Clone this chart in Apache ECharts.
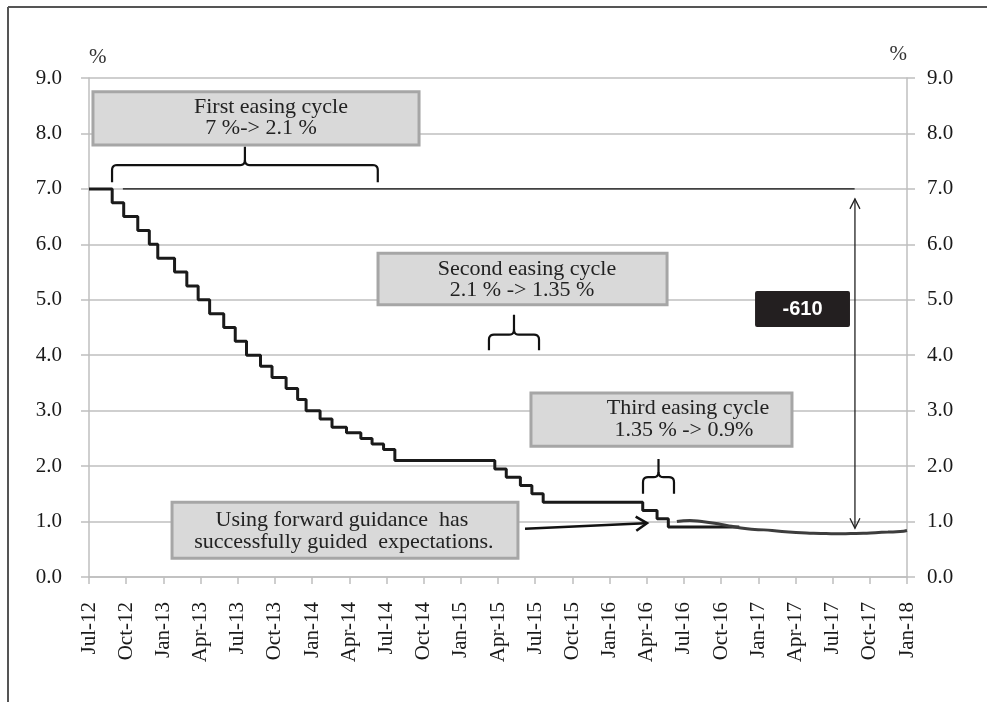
<!DOCTYPE html>
<html><head><meta charset="utf-8">
<script src="https://cdn.jsdelivr.net/npm/echarts@6/dist/echarts.min.js"></script>
<style>html,body{margin:0;padding:0;background:#fff}#c{width:987px;height:702px}</style>
</head><body><div id="c"></div>
<script>
// ---------- data ----------
const tickLabels = ['Jul-12','Oct-12','Jan-13','Apr-13','Jul-13','Oct-13','Jan-14','Apr-14','Jul-14','Oct-14','Jan-15','Apr-15','Jul-15','Oct-15','Jan-16','Apr-16','Jul-16','Oct-16','Jan-17','Apr-17','Jul-17','Oct-17','Jan-18'];
const yTicks = [0,1,2,3,4,5,6,7,8,9];

const rateDates = ['2012-07-01','2012-08-28','2012-09-25','2012-10-30','2012-11-27','2012-12-18',
  '2013-01-29','2013-02-26','2013-03-26','2013-04-23','2013-05-28','2013-06-25','2013-07-23','2013-08-27',
  '2013-09-24','2013-10-29','2013-11-26','2013-12-17','2014-01-21','2014-02-18','2014-03-25','2014-04-29',
  '2014-05-27','2014-06-24','2014-07-22','2015-03-24','2015-04-21','2015-05-26','2015-06-23','2015-07-21',
  '2016-03-22','2016-04-26','2016-05-24','2016-11-15'];
const rateValues = [7.00,6.75,6.50,6.25,6.00,5.75,5.50,5.25,5.00,4.75,4.50,4.25,4.00,3.80,3.60,3.40,3.20,3.00,
  2.85,2.70,2.60,2.50,2.40,2.30,2.10,1.95,1.80,1.65,1.50,1.35,1.20,1.05,0.90,0.90];

const expDates = ['2016-06-14','2016-07-16','2016-08-15','2016-09-15','2016-10-15','2016-11-15','2016-12-15',
  '2017-01-15','2017-02-15','2017-03-15','2017-04-15','2017-05-15','2017-06-15','2017-07-15','2017-08-15',
  '2017-09-15','2017-10-15','2017-11-15','2017-12-15','2018-01-01'];
const expValues = [1.00,1.02,1.00,0.97,0.93,0.89,0.86,0.85,0.83,0.81,0.80,0.79,0.785,0.78,0.785,0.79,0.80,0.81,0.82,0.84];

const refDates = ['2012-09-23','2017-08-25'];
const refValues = [7.0,7.0];

const cutLabel = '-610';

// ---------- helpers ----------
function mi(s){const [y,m,d]=s.split('-').map(Number);const dim=new Date(y,m,0).getDate();return (y-2012)*12+(m-7)+(d-1)/dim;}
function pairs(ds,vs){return ds.map((d,i)=>[mi(d),vs[i]]);}

const SERIF = '"Liberation Serif","Times New Roman",serif';
const GRID = '#bfbfbf';

const chart = echarts.init(document.getElementById('c'));
const option = {
  animation:false,
  backgroundColor:'#fff',
  grid:{left:89,right:80,top:78,bottom:125},
  xAxis:{type:'value',min:0,max:66,interval:3,
    axisLine:{show:true,lineStyle:{color:GRID,width:1.5}},
    axisTick:{show:true,length:7,lineStyle:{color:GRID,width:1.5}},
    splitLine:{show:false},
    axisLabel:{rotate:90,margin:25,fontFamily:SERIF,fontSize:21,color:'#1a1a1a',
      formatter:v=>tickLabels[Math.round(v/3)]||''}},
  yAxis:[
    {type:'value',min:0,max:9,interval:1,position:'left',
     name:'%',nameLocation:'end',nameGap:21,
     nameTextStyle:{fontFamily:SERIF,fontSize:21,color:'#333',align:'left',verticalAlign:'middle'},
     axisLine:{show:true,lineStyle:{color:GRID,width:1.5}},
     axisTick:{show:true,length:8,lineStyle:{color:GRID,width:1.5}},
     splitLine:{show:true,lineStyle:{color:GRID,width:1.5}},
     axisLabel:{margin:27,fontFamily:SERIF,fontSize:21,color:'#1a1a1a',formatter:v=>v.toFixed(1)}},
    {type:'value',min:0,max:9,interval:1,position:'right',
     name:'%',nameLocation:'end',nameGap:24,
     nameTextStyle:{fontFamily:SERIF,fontSize:21,color:'#333',align:'right',verticalAlign:'middle'},
     axisLine:{show:true,lineStyle:{color:GRID,width:1.5}},
     axisTick:{show:true,length:8,lineStyle:{color:GRID,width:1.5}},
     splitLine:{show:false},
     axisLabel:{margin:20,fontFamily:SERIF,fontSize:21,color:'#1a1a1a',formatter:v=>v.toFixed(1)}}
  ],
  series:[
    {name:'ref',type:'line',data:pairs(refDates,refValues),symbol:'none',
     lineStyle:{color:'#111',width:1.3},z:3},
    {name:'Base rate',type:'line',step:'end',data:pairs(rateDates,rateValues),symbol:'none',
     lineStyle:{color:'#1a1a1a',width:3},z:4},
    {name:'Expectations',type:'line',smooth:0.5,data:pairs(expDates,expValues),symbol:'none',
     lineStyle:{color:'#3d3d3d',width:3},z:5}
  ]
};
chart.setOption(option);

// ---------- annotations (anchored in data units) ----------
function P(m,v){return chart.convertToPixel({xAxisIndex:0,yAxisIndex:0},[m,v]);}
const boxes=[
  {x0:0.32,x1:26.63,y0:8.75,y1:7.79},
  {x0:23.32,x1:46.64,y0:5.84,y1:4.91},
  {x0:35.66,x1:56.72,y0:3.32,y1:2.36},
  {x0:6.70,x1:34.61,y0:1.35,y1:0.34}
];
const texts=[
  {t:'First easing cycle',m:14.68,v:8.47},
  {t:'7 %-> 2.1 %',m:13.88,v:8.09},
  {t:'Second easing cycle',m:35.34,v:5.56},
  {t:'2.1 % -> 1.35 %',m:34.94,v:5.17},
  {t:'Third easing cycle',m:48.33,v:3.04},
  {t:'1.35 % -> 0.9%',m:48.0,v:2.64},
  {t:'Using forward guidance  has',m:20.41,v:1.02},
  {t:'successfully guided  expectations.',m:20.57,v:0.62}
];
const braces=[
  {l:1.86,r:23.3,b:7.12,h:7.43,t:7.76},
  {l:32.27,r:36.31,b:4.09,h:4.37,t:4.73},
  {l:44.7,r:47.2,b:1.50,h:1.80,t:2.13}
];
const els=[];
boxes.forEach(b=>{
  const a=P(b.x0,b.y0),c=P(b.x1,b.y1);
  els.push({type:'rect',z:100,shape:{x:a[0],y:a[1],width:c[0]-a[0],height:c[1]-a[1]},
    style:{fill:'#d9d9d9',stroke:'#a6a6a6',lineWidth:3}});
});
texts.forEach(t=>{
  const p=P(t.m,t.v);
  els.push({type:'text',z:101,style:{text:t.t,x:p[0],y:p[1],fill:'#222',font:'22px '+SERIF,
    textAlign:'center',textVerticalAlign:'middle',align:'center',verticalAlign:'middle'}});
});
function quad(p0,c,p1,n){const o=[];for(let i=1;i<=n;i++){const t=i/n,u=1-t;o.push([u*u*p0[0]+2*u*t*c[0]+t*t*p1[0],u*u*p0[1]+2*u*t*c[1]+t*t*p1[1]]);}return o;}
braces.forEach(b=>{
  const L=P(b.l,b.b),R=P(b.r,b.b),H=P(0,b.h),T=P(0,b.t);
  const xl=L[0],xr=R[0],xm=(xl+xr)/2,yb=L[1],yh=H[1],yt=T[1],r=5;
  const left=[[xl,yb],[xl,yh+r]].concat(quad([xl,yh+r],[xl,yh],[xl+r,yh],5),[[xm-r,yh]],quad([xm-r,yh],[xm,yh],[xm,yh-r],5),[[xm,yt]]);
  const right=[[xm,yh-r]].concat(quad([xm,yh-r],[xm,yh],[xm+r,yh],5),[[xr-r,yh]],quad([xr-r,yh],[xr,yh],[xr,yh+r],5),[[xr,yb]]);
  els.push({type:'polyline',z:100,shape:{points:left},style:{fill:null,stroke:'#111',lineWidth:2.2}});
  els.push({type:'polyline',z:100,shape:{points:right},style:{fill:null,stroke:'#111',lineWidth:2.2}});
});
function arrowHead(tip,from,len,half,w,color){
  const dx=tip[0]-from[0],dy=tip[1]-from[1],n=Math.hypot(dx,dy),ux=dx/n,uy=dy/n;
  const bx=tip[0]-ux*len,by=tip[1]-uy*len;
  return {type:'polyline',z:100,shape:{points:[[bx-uy*half,by+ux*half],tip,[bx+uy*half,by-ux*half]]},
    style:{fill:null,stroke:color,lineWidth:w}};
}
// forward guidance arrow
{
  const s=P(35.18,0.87),e=P(45.02,0.97);
  els.push({type:'line',z:100,shape:{x1:s[0],y1:s[1],x2:e[0]-2,y2:e[1]},style:{stroke:'#111',lineWidth:2.6}});
  els.push(arrowHead(e,s,11,7,2.6,'#111'));
}
// -610 double arrow
{
  const top=P(61.8,6.82),bot=P(61.8,0.88);
  els.push({type:'line',z:100,shape:{x1:top[0],y1:top[1],x2:bot[0],y2:bot[1]},style:{stroke:'#222',lineWidth:1.3}});
  els.push(arrowHead(top,bot,10,5,1.3,'#222'));
  els.push(arrowHead(bot,top,10,5,1.3,'#222'));
  const a=P(53.74,5.16),c=P(61.40,4.51);
  els.push({type:'rect',z:100,shape:{x:a[0],y:a[1],width:c[0]-a[0],height:c[1]-a[1],r:2},style:{fill:'#231f20'}});
  els.push({type:'text',z:101,style:{text:cutLabel,x:(a[0]+c[0])/2,y:(a[1]+c[1])/2+1,fill:'#fff',
    font:'bold 20px "Liberation Sans",Arial,sans-serif',textAlign:'center',textVerticalAlign:'middle',align:'center',verticalAlign:'middle'}});
}
// outer frame
els.push({type:'line',z:100,shape:{x1:8,y1:7,x2:987,y2:7},style:{stroke:'#555',lineWidth:2}});
els.push({type:'line',z:100,shape:{x1:8,y1:7,x2:8,y2:702},style:{stroke:'#555',lineWidth:2}});
chart.setOption({graphic:{elements:els}});
</script></body></html>
